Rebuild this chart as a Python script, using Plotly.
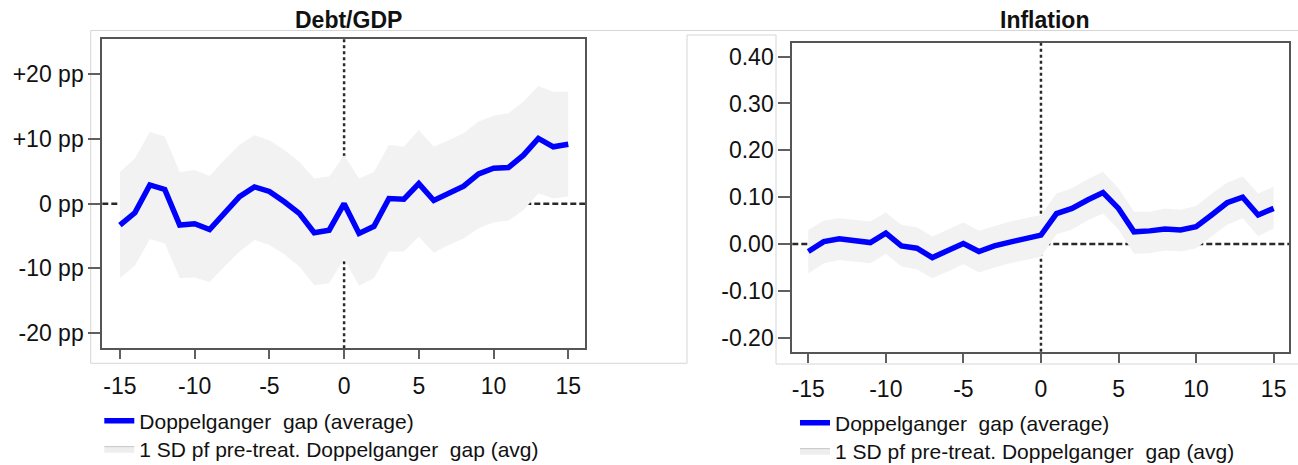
import plotly.graph_objects as go

# ---------------- data ----------------
years = list(range(-15, 16))

debt_gap = [-3.3, -1.4, 2.9, 2.2, -3.3, -3.1, -4.0, -1.5, 1.1, 2.6, 1.9, 0.3, -1.5, -4.5, -4.1,
            0.0, -4.6, -3.5, 0.8, 0.7, 3.1, 0.5, 1.7, 2.7, 4.6, 5.5, 5.6, 7.5, 10.1, 8.8, 9.2]
debt_upper = [4.9, 7.0, 11.1, 10.4, 4.9, 5.2, 4.3, 6.8, 9.1, 10.6, 9.8, 8.3, 6.5, 3.9, 4.2,
              7.5, 3.9, 4.9, 9.1, 8.8, 11.4, 8.8, 9.8, 10.9, 12.7, 13.6, 14.0, 15.8, 18.2, 17.3, 17.3]
debt_lower = [-11.5, -9.6, -5.5, -6.1, -11.5, -11.4, -12.1, -9.7, -7.4, -5.6, -6.4, -7.8, -9.7, -12.6, -12.3,
              -8.5, -12.7, -11.5, -7.4, -7.4, -5.1, -7.6, -6.4, -5.4, -3.8, -2.9, -2.6, -1.0, 1.6, 0.8, 1.1]

infl_gap = [-0.016, 0.005, 0.011, 0.006, 0.003, 0.023, -0.004, -0.009, -0.029, -0.014, 0.001, -0.016, -0.004,
            0.004, 0.012, 0.019, 0.065, 0.076, 0.094, 0.110, 0.076, 0.026, 0.028, 0.032, 0.030, 0.037,
            0.062, 0.088, 0.100, 0.062, 0.076]
infl_upper = [0.030, 0.050, 0.055, 0.051, 0.048, 0.067, 0.041, 0.036, 0.016, 0.031, 0.046, 0.028, 0.038,
              0.048, 0.055, 0.062, 0.108, 0.119, 0.138, 0.154, 0.119, 0.069, 0.069, 0.076, 0.073, 0.081,
              0.107, 0.131, 0.144, 0.108, 0.122]
infl_lower = [-0.063, -0.041, -0.034, -0.038, -0.041, -0.021, -0.048, -0.054, -0.073, -0.059, -0.043, -0.061, -0.050,
              -0.041, -0.034, -0.027, 0.021, 0.031, 0.050, 0.065, 0.031, -0.021, -0.020, -0.014, -0.016, -0.009,
              0.016, 0.041, 0.055, 0.017, 0.033]

x_tickvals = [-15, -10, -5, 0, 5, 10, 15]
x_ticktext = ["-15", "-10", "-5", "0", "5", "10", "15"]
debt_tickvals = [20, 10, 0, -10, -20]
debt_ticktext = ["+20 pp", "+10 pp", "0 pp", "-10 pp", "-20 pp"]
infl_tickvals = [0.4, 0.3, 0.2, 0.1, 0.0, -0.1, -0.2]
infl_ticktext = ["0.40", "0.30", "0.20", "0.10", "0.00", "-0.10", "-0.20"]

titles = ["Debt/GDP", "Inflation"]
line_name = "Doppelganger\u00a0 gap (average)"
band_name = "1 SD pf pre-treat. Doppelganger\u00a0 gap (avg)"

# ---------------- styling ----------------
W, H = 1298, 465
BLUE = "#0000ff"
BAND = "#f2f2f2"
FRAME = "#555555"
REF = "#2a2a2a"
FONT = "Arial, Liberation Sans, sans-serif"
TXT = "#111111"


def px_x(p):
    return p / W


def px_y(p):
    return 1 - p / H


fig = go.Figure()

panels = [
    dict(gap=debt_gap, up=debt_upper, lo=debt_lower, xa="x", ya="y", legs=("legend", "legend2")),
    dict(gap=infl_gap, up=infl_upper, lo=infl_lower, xa="x2", ya="y2", legs=("legend3", "legend4")),
]

for p in panels:
    band_x = years + years[::-1]
    band_y = p["up"] + p["lo"][::-1]
    fig.add_trace(go.Scatter(
        x=band_x, y=band_y, xaxis=p["xa"], yaxis=p["ya"], mode="lines",
        fill="toself", fillcolor=BAND, line=dict(color=BAND, width=0),
        hoverinfo="skip", showlegend=False))
    fig.add_trace(go.Scatter(
        x=years, y=p["gap"], xaxis=p["xa"], yaxis=p["ya"], mode="lines",
        line=dict(color=BLUE, width=5.5), name=line_name, legend=p["legs"][0]))
    # legend-only swatch for the band
    fig.add_trace(go.Scatter(
        x=[None], y=[None], xaxis=p["xa"], yaxis=p["ya"], mode="lines",
        fill="toself", fillcolor="#eeeeee", line=dict(color="#c4c4c4", width=1),
        name=band_name, legend=p["legs"][1]))

axis_common = dict(
    showline=True, mirror=True, linecolor=FRAME, linewidth=2,
    showgrid=False, zeroline=False, ticks="outside", tickcolor="#606060",
    tickwidth=2, tickfont=dict(family=FONT, size=23, color=TXT),
)


def leg(xpx, ypx):
    return dict(x=px_x(xpx), y=px_y(ypx), xanchor="left", yanchor="middle",
                bgcolor="rgba(0,0,0,0)", borderwidth=0,
                font=dict(family=FONT, size=21, color=TXT), itemwidth=30)


fig.update_layout(
    width=W, height=H, autosize=False,
    margin=dict(l=0, r=0, t=0, b=0, autoexpand=False),
    paper_bgcolor="white", plot_bgcolor="white",
    xaxis=dict(domain=[px_x(102.3), px_x(585)], range=[-16.18, 16.12],
               tickvals=x_tickvals, ticktext=x_ticktext, ticklen=9, ticklabelstandoff=7,
               anchor="y", **axis_common),
    yaxis=dict(domain=[px_y(348.3), px_y(39.3)], range=[-22.36, 25.42],
               tickvals=debt_tickvals, ticktext=debt_ticktext, ticklen=12, anchor="x", **axis_common),
    xaxis2=dict(domain=[px_x(792.3), px_x(1289)], range=[-16.03, 15.99],
                tickvals=x_tickvals, ticktext=x_ticktext, ticklen=9, ticklabelstandoff=7,
                anchor="y2", **axis_common),
    yaxis2=dict(domain=[px_y(351.7), px_y(42.7)], range=[-0.23, 0.4298],
                tickvals=infl_tickvals, ticktext=infl_ticktext, ticklen=12, anchor="x2", **axis_common),
    legend=leg(99.3, 421),
    legend2=leg(99.3, 449),
    legend3=leg(795, 423),
    legend4=leg(795, 451),
    showlegend=True,
)

# titles
for t, xc in zip(titles, [348, 1044]):
    fig.add_annotation(text="<b>%s</b>" % t, x=px_x(xc), y=px_y(20), xref="paper", yref="paper",
                       xanchor="center", yanchor="middle", showarrow=False,
                       font=dict(family=FONT, size=23, color=TXT))

# reference lines at zero (drawn below the band)
for xa, ya in [("x", "y"), ("x2", "y2")]:
    fig.add_shape(type="line", xref=xa, yref=ya + " domain", x0=0, x1=0, y0=0, y1=1,
                  line=dict(color=REF, width=2.5, dash="3px,3px"), layer="below")
    fig.add_shape(type="line", xref=xa + " domain", yref=ya, x0=0, x1=1, y0=0, y1=0,
                  line=dict(color=REF, width=2.5, dash="6px,3px"), layer="below")

# faint outer frame lines of the original picture
frame_segments = [
    (90.7, 30.5, 1298, 30.5),
    (90.7, 30.5, 90.7, 363.3),
    (90.7, 363.3, 687, 363.3),
    (687, 35, 687, 363.3),
    (687, 35, 776, 35),
    (776, 35, 776, 364),
    (776, 364, 1298, 364),
]
for x0, y0, x1, y1 in frame_segments:
    fig.add_shape(type="line", xref="paper", yref="paper",
                  x0=px_x(x0), y0=px_y(y0), x1=px_x(x1), y1=px_y(y1),
                  line=dict(color="#d6d6d6", width=1), layer="below")

fig.write_html("out.html", config={"displayModeBar": False},
               post_script="document.body.style.margin='0';document.body.style.overflow='hidden';")
